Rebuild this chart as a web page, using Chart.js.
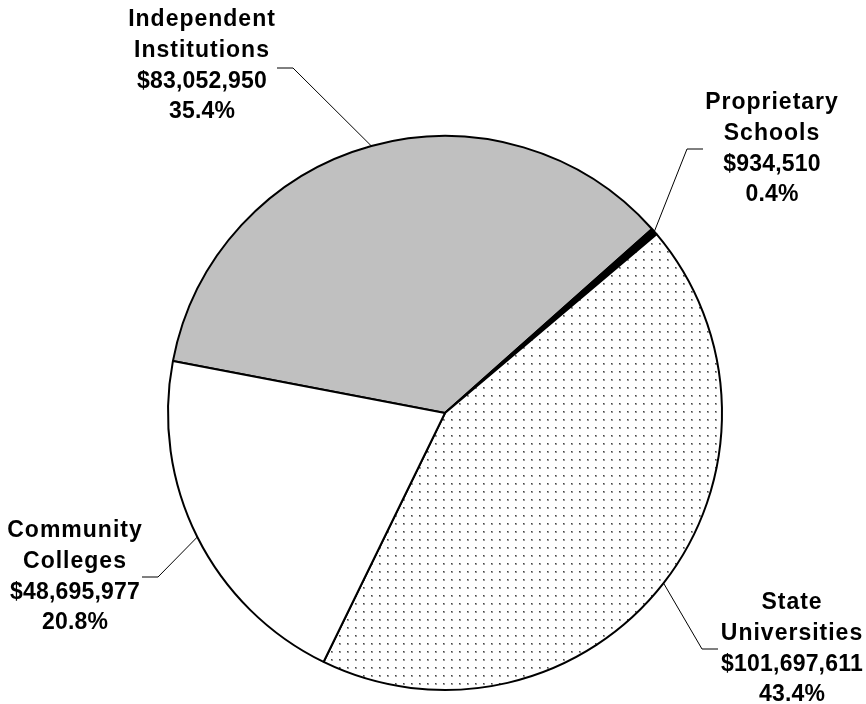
<!DOCTYPE html>
<html>
<head>
<meta charset="utf-8">
<script src="https://cdn.jsdelivr.net/npm/chart.js@4"></script>
<style>
  html, body { margin: 0; padding: 0; background: #fff; }
  #wrap { width: 866px; height: 704px; position: relative; }
</style>
</head>
<body>
<div id="wrap"><canvas id="pie"></canvas></div>
<script>
// Data
const categories = [['Independent', 'Institutions'], ['Proprietary', 'Schools'], ['State', 'Universities'], ['Community', 'Colleges']];
const amounts = [83052950, 934510, 101697611, 48695977];

// Label placement (text centre x, first line y, elbow and end of leader line)
const labelSpots = [
    { x: 202, y: 20, elbow: [293, 68], end: [277, 68] },
    { x: 772, y: 103, elbow: [687, 149], end: [703, 149] },
    { x: 792, y: 603, elbow: [702, 649], end: [718, 649] },
    { x: 75, y: 531, elbow: [158, 577], end: [142, 577] }
];

const ctx = document.getElementById('pie').getContext('2d');

function dotPattern() {
    const c = document.createElement('canvas');
    c.width = 8; c.height = 8;
    const g = c.getContext('2d');
    g.fillStyle = '#fff';
    g.fillRect(0, 0, 8, 8);
    g.fillStyle = '#999';
    g.fillRect(3, 3, 2, 2);
    g.fillStyle = '#444';
    g.fillRect(3, 3, 1, 1);
    return ctx.createPattern(c, 'repeat');
}

const total = amounts.reduce((a, b) => a + b, 0);
const fmtMoney = v => '$' + v.toLocaleString('en-US');
const fmtPct = v => (v / total * 100).toFixed(1) + '%';

const calloutPlugin = {
    id: 'callouts',
    afterDatasetsDraw(chart) {
        const c = chart.ctx;
        const arcs = chart.getDatasetMeta(0).data;
        c.save();
        arcs.forEach((arc, i) => {
            const p = arc.getProps(['x', 'y', 'startAngle', 'endAngle', 'outerRadius'], true);
            const mid = (p.startAngle + p.endAngle) / 2;
            const sx = p.x + Math.cos(mid) * p.outerRadius;
            const sy = p.y + Math.sin(mid) * p.outerRadius;
            const spot = labelSpots[i];
            c.strokeStyle = '#000';
            c.lineWidth = 1;
            c.beginPath();
            c.moveTo(sx, sy);
            c.lineTo(spot.elbow[0], spot.elbow[1]);
            c.lineTo(spot.end[0], spot.end[1]);
            c.stroke();

            const lines = [...categories[i], fmtMoney(amounts[i]), fmtPct(amounts[i])];
            c.fillStyle = '#000';
            c.font = 'bold 23px "Liberation Sans", Arial, sans-serif';
            c.textAlign = 'center';
            c.textBaseline = 'middle';
            lines.forEach((t, k) => {
                // the name lines sit a little looser than the figures
                c.letterSpacing = k < 2 ? '1px' : '0.2px';
                c.fillText(t, spot.x, spot.y + k * 30.7);
            });
        });
        c.restore();
    }
};

new Chart(ctx, {
    type: 'pie',
    data: {
        labels: categories.map(l => l.join(' ')),
        datasets: [{
            data: amounts,
            backgroundColor: ['#c0c0c0', '#000000', dotPattern(), '#ffffff'],
            borderColor: '#000',
            borderWidth: 2
        }]
    },
    options: {
        responsive: true,
        maintainAspectRatio: false,
        animation: false,
        rotation: 280.8,
        layout: { padding: { top: 135, bottom: 13, left: 167, right: 143 } },
        plugins: { legend: { display: false }, tooltip: { enabled: false } }
    },
    plugins: [calloutPlugin]
});
</script>
</body>
</html>
